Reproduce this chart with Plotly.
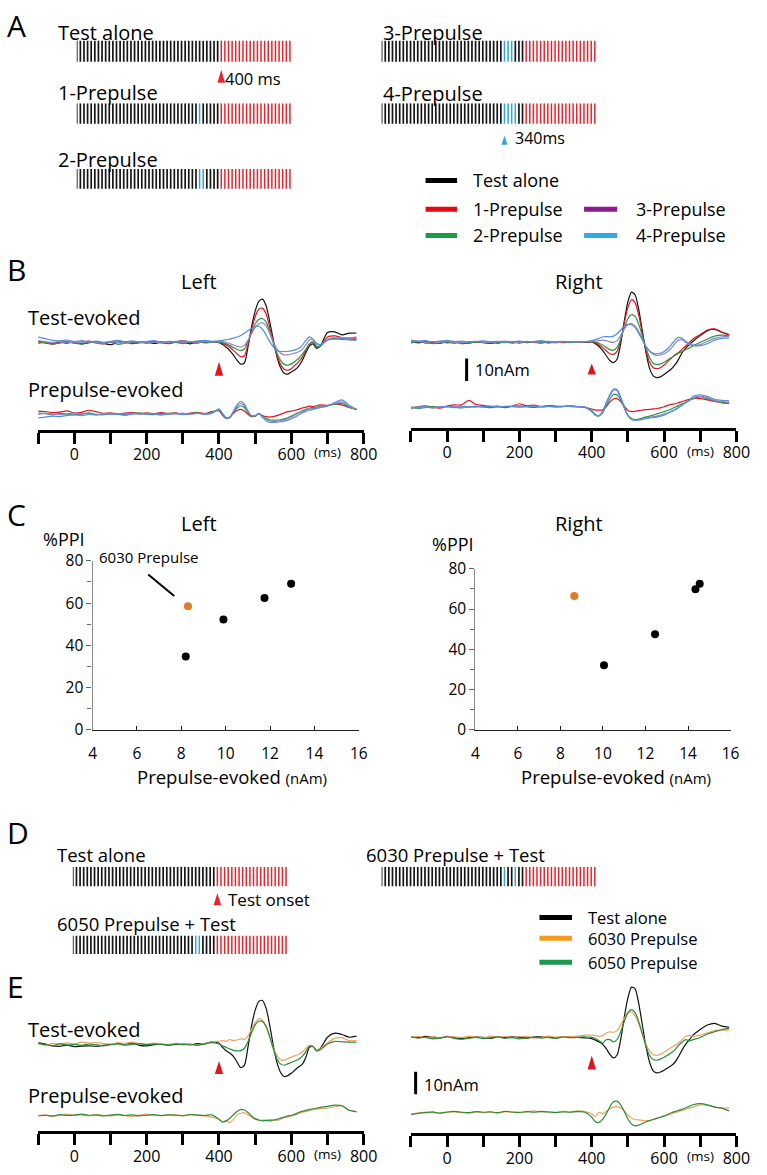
import plotly.graph_objects as go

FONT = "Open Sans"
W, H = 767, 1175

# ---------------- stimulus parameters (ms) ----------------
CLICK_INTERVAL_MS = 10
TRAIN_END_MS = 600
TEST_ONSET_MS = 400
PP_MARK_MS = 340
PP_1 = [340]
PP_2 = [340, 350]
PP_3 = [340, 350, 360]
PP_4 = [340, 350, 360, 370]
PP_6030 = [340, 370]
PP_6050 = [340, 350]

# ---------------- panel C scatter data ----------------
C_LEFT_X = [8.2, 9.9, 11.75, 12.95]
C_LEFT_Y = [34.8, 52.2, 62.4, 69.2]
C_LEFT_6030_X = [8.3]
C_LEFT_6030_Y = [58.5]
C_RIGHT_X = [10.05, 12.45, 14.35, 14.55]
C_RIGHT_Y = [32.1, 47.5, 69.8, 72.5]
C_RIGHT_6030_X = [8.65]
C_RIGHT_6030_Y = [66.5]
C_XTICKS = [4, 6, 8, 10, 12, 14, 16]
C_YTICKS = [0, 20, 40, 60, 80]

# ---------------- waveform time axis (ms) ----------------
T = [-100, -80, -60, -40, -20, 0, 20, 40, 60, 80, 100, 120, 140, 160, 180, 200, 220, 240, 260, 280, 300, 320, 340, 360, 380,
     400, 410, 420, 430, 440, 450, 460, 470, 480, 490, 500, 510, 520, 530, 540, 550, 560, 570, 580, 590, 600, 610, 620, 630, 640,
     650, 660, 670, 680, 700, 720, 740, 760, 780]
WAVE_TICKS = [-100, 0, 100, 200, 300, 400, 500, 600, 700, 800]
WAVE_TICKTEXT = ["", "0", "", "200", "", "400", "", "600", "", "800"]

# ---------------- B left (nAm) ----------------
BL_TEST_BLACK = [0.6, 0.2, -0.4, 0.3, -0.2, 0.4, -0.5, 0.0, 0.5, -0.3, -0.9, 0.1, 0.5, -0.2, 0.2, 0.4, -0.3, 0.2, -0.4, 0.3, 0.1, -0.5, 0.4, 0.2, 0.3,
                 0.0, -0.8, -2.0, -3.5, -5.5, -7.8, -9.5, -9.0, -2.0, 7.0, 14.0, 18.3, 19.3, 16.5, 9.5, 1.5, -6.0, -11.0, -13.5, -13.9, -13.0, -12.0, -10.5, -8.0, -4.5, -1.5, -0.5, -2.5, -1.5, 4.5, 4.8, 3.5, 4.2, 4.3]
BL_TEST_RED = [0.3, -0.2, -0.6, 0.1, 0.5, -0.2, 0.3, 0.7, -0.1, -0.5, 0.2, 0.8, 0.3, -0.4, -0.1, 0.3, 0.6, 0.0, -0.3, 0.4, 0.9, 0.2, -0.2, 0.6, 0.4,
               0.2, -0.3, -1.0, -2.0, -3.4, -5.0, -6.2, -5.8, -1.0, 5.5, 11.5, 14.8, 15.3, 12.8, 7.0, 0.5, -5.5, -9.5, -11.8, -12.2, -11.5, -10.0, -8.5, -6.5, -3.5, -0.8, 0.3, -2.0, -1.5, 2.5, 3.0, 2.2, 2.0, 2.0]
BL_TEST_GREEN = [-0.3, 0.2, -0.5, -0.2, 0.4, -0.1, -0.6, 0.2, 0.0, -0.4, 0.3, -0.7, -0.2, 0.1, 0.4, -0.3, 0.2, 0.5, -0.2, 0.1, -0.4, 0.3, 0.6, -0.1, 0.2,
                 0.2, 0.0, -0.5, -1.3, -2.2, -3.0, -3.5, -2.8, 0.5, 4.5, 8.3, 10.3, 10.7, 9.2, 5.0, 0.0, -4.5, -7.8, -9.5, -10.0, -9.4, -8.3, -7.0, -5.2, -3.0, -0.5, 0.5, -1.8, -1.5, 1.2, 1.8, 1.5, 1.2, 1.5]
BL_TEST_PURPLE = [0.8, 0.4, 0.1, 0.5, -0.1, 0.3, 0.0, 0.6, 0.2, -0.2, 0.4, 0.1, -0.3, 0.5, 0.2, 0.0, 0.4, -0.2, 0.3, 0.6, 0.1, 0.4, 0.2, 0.5, 0.3,
                  0.5, 0.5, 0.1, -0.4, -1.0, -1.6, -1.9, -1.2, 1.0, 4.0, 6.8, 8.4, 8.8, 7.6, 4.2, 0.5, -2.8, -4.6, -5.4, -5.4, -5.0, -4.6, -4.0, -3.0, -1.0, 1.2, 1.4, -0.8, -1.0, 1.5, 2.4, 2.2, 2.0, 2.6]
BL_TEST_BLUE = [2.5, 1.8, 1.0, 0.8, 1.2, 0.5, 0.9, 0.3, 0.7, 0.2, 0.6, 1.0, 0.4, 0.8, 0.3, 0.5, 0.9, 0.2, 0.6, 0.4, 0.8, 0.3, 0.7, 1.0, 0.6,
                0.8, 1.0, 1.3, 1.6, 2.0, 2.5, 3.2, 4.2, 5.3, 6.4, 7.1, 7.4, 6.0, 3.5, 0.6, -1.8, -3.3, -3.9, -3.9, -3.8, -3.6, -3.2, -2.6, -1.2, 1.0, 2.6, 1.6, -0.3, -0.8, 1.2, 1.6, 1.8, 1.5, 1.0]

BL_PRE_RED = [1.4, 1.2, 0.8, 1.0, 1.5, 0.6, 0.9, 1.8, 1.2, 0.4, 0.7, 0.2, 0.5, 0.9, 0.3, 0.6, 0.2, 0.8, 0.4, 0.6, 0.1, 0.5, 0.9, 0.3, 1.2,
              1.5, -0.5, -1.8, -1.2, 0.5, 1.8, 2.2, 1.5, 0.0, -1.0, -0.8, 0.2, -0.5, -1.0, -1.2, -1.0, -0.6, 0.0, 0.6, 1.2, 1.4, 1.8, 2.2, 2.8, 3.2, 3.6, 3.4, 3.8, 4.2, 4.0, 4.5, 4.2, 3.0, 2.2]
BL_PRE_GREEN = [0.5, 0.3, -0.2, 0.4, 0.1, -0.3, 0.2, 0.6, 0.0, -0.2, 0.3, 0.1, -0.4, 0.3, 0.6, 0.2, -0.1, 0.4, 0.2, 0.5, 0.0, 0.3, 0.6, 0.1, 0.9,
                2.0, 0.0, -1.8, -1.5, 0.8, 2.8, 3.8, 3.0, 0.8, -0.8, -0.8, 0.3, -0.8, -1.8, -2.4, -2.6, -2.6, -2.4, -2.0, -1.5, -0.8, 0.0, 0.8, 1.5, 2.2, 2.8, 3.0, 3.2, 3.5, 3.8, 4.5, 4.8, 3.2, 2.2]
BL_PRE_PURPLE = [0.0, 0.4, 0.2, -0.2, 0.3, 0.5, 0.1, 0.3, -0.2, 0.2, 0.4, -0.1, 0.2, 0.5, 0.0, 0.3, 0.1, -0.2, 0.4, 0.2, 0.5, 0.0, 0.4, 0.2, 0.6,
                 2.2, 0.2, -1.6, -1.4, 1.2, 3.5, 4.8, 3.8, 1.2, -0.6, -0.6, 0.4, -1.0, -2.2, -2.9, -3.1, -3.0, -2.8, -2.4, -1.9, -1.2, -0.3, 0.5, 1.2, 1.8, 2.4, 2.6, 3.0, 3.4, 3.8, 4.8, 5.5, 3.5, 2.2]
BL_PRE_BLUE = [-1.5, -1.2, -0.8, -1.0, -0.5, -0.2, -0.6, 0.0, -0.3, 0.2, -0.1, 0.3, -0.2, 0.1, 0.4, 0.0, 0.2, -0.3, 0.1, 0.3, -0.1, 0.2, 0.5, 0.0, 0.4,
               2.4, 0.3, -1.5, -1.3, 1.5, 4.2, 5.8, 4.5, 1.5, -0.5, -0.5, 0.2, -1.3, -2.8, -3.5, -3.6, -3.5, -3.3, -3.0, -2.6, -2.0, -1.2, -0.3, 0.6, 1.3, 1.8, 2.2, 2.6, 3.0, 3.6, 5.2, 6.4, 4.0, 2.2]

# ---------------- B right (nAm) ----------------
BR_TEST_BLACK = [0.5, -0.2, 0.3, 0.0, -0.4, 0.2, 0.4, -0.1, -0.3, 0.2, 0.0, -0.5, 0.3, 0.1, -0.2, 0.3, -0.1, 0.2, 0.4, -0.2, 0.1, 0.3, -0.1, 0.2, 0.0,
                 0.2, -0.6, -1.8, -3.5, -5.8, -8.0, -9.0, -7.5, -0.5, 9.5, 18.0, 22.3, 21.0, 14.5, 5.0, -4.5, -11.5, -14.8, -15.6, -15.3, -14.2, -13.0, -11.8, -10.0, -7.5, -4.5, -2.5, -1.0, 0.5, 3.0, 5.2, 5.8, 4.5, 3.5]
BR_TEST_RED = [0.2, 0.4, -0.3, 0.1, 0.5, -0.2, 0.3, -0.6, 0.0, 0.4, -0.1, 0.2, -0.4, 0.3, 0.1, -0.2, 0.5, 0.0, -0.3, 0.2, 0.4, -0.1, 0.1, 0.3, 0.2,
               0.3, -0.2, -1.0, -2.2, -3.8, -5.0, -5.3, -4.0, 1.0, 8.5, 15.5, 18.9, 17.5, 12.0, 4.0, -3.5, -8.8, -11.2, -11.6, -11.2, -10.0, -8.5, -7.0, -5.5, -4.5, -3.0, -1.5, 0.0, 1.5, 3.5, 5.5, 6.0, 4.5, 3.2]
BR_TEST_GREEN = [-0.2, 0.3, 0.0, -0.5, -0.3, 0.2, -0.4, 0.1, -0.2, 0.3, 0.0, -0.3, 0.2, -0.1, 0.3, -0.2, 0.1, 0.4, -0.1, 0.2, -0.2, 0.3, 0.0, 0.1, 0.2,
                 0.4, 0.2, -0.4, -1.2, -2.2, -3.2, -3.5, -2.2, 1.5, 6.5, 10.5, 12.3, 11.5, 8.0, 2.8, -2.5, -6.8, -9.2, -9.8, -9.5, -8.8, -7.8, -6.8, -5.8, -4.8, -4.0, -3.2, -2.5, -1.5, 0.0, 1.5, 2.8, 3.2, 3.0]
BR_TEST_PURPLE = [0.4, 0.6, 0.1, 0.3, 0.0, 0.4, 0.2, -0.1, 0.3, 0.5, 0.1, 0.0, 0.3, 0.6, 0.2, 0.0, 0.4, 0.1, 0.3, 0.5, 0.0, 0.2, 0.4, 0.1, 0.3,
                  0.5, 0.6, 0.8, 1.0, 0.8, 0.2, 0.0, 0.8, 3.0, 6.0, 7.8, 8.3, 7.2, 4.8, 1.5, -1.8, -4.0, -5.2, -5.8, -5.6, -5.0, -4.0, -2.5, -0.5, 1.0, 1.2, 0.0, -1.0, -1.5, -1.0, 0.5, 1.8, 2.5, 2.8]
BR_TEST_BLUE = [1.0, 0.5, 0.8, 0.2, 0.5, 0.9, 0.3, 0.6, 0.1, 0.4, 0.7, 0.2, 0.5, 0.0, 0.3, 0.6, 0.2, 0.4, 0.8, 0.1, 0.3, 0.5, 0.2, 0.4, 0.3,
                0.8, 1.2, 1.8, 2.4, 2.6, 2.5, 2.8, 3.8, 5.5, 7.2, 8.0, 7.8, 6.5, 4.0, 1.0, -1.8, -3.8, -4.8, -5.1, -4.8, -4.0, -2.8, -1.0, 1.0, 2.2, 1.8, 0.5, -0.5, -1.2, -1.5, -0.5, 1.0, 1.8, 2.0]

BR_PRE_RED = [-0.5, 0.2, 0.6, 0.0, -0.4, 0.5, 1.0, 1.0, 3.0, 1.2, 0.8, 0.2, 0.5, -0.2, 0.4, 1.5, 0.6, 0.9, 0.3, 0.7, 0.5, 0.2, 0.6, 0.3, 0.0,
              -0.8, -1.3, -1.3, -1.2, 0.2, 2.2, 3.6, 3.8, 2.5, 0.5, -1.5, -2.0, -1.8, -1.5, -1.3, -1.1, -1.0, -0.8, -0.6, -0.3, 0.2, 0.8, 1.2, 1.5, 2.0, 2.5, 3.0, 3.5, 3.8, 3.8, 3.2, 2.5, 2.0, 1.8]
BR_PRE_GREEN = [0.2, -0.5, -0.2, 0.3, -0.1, 0.4, 0.0, -0.3, 0.2, 0.5, 0.1, -0.2, 0.3, 0.0, 0.4, 0.6, 0.2, -0.1, 0.3, 0.5, 0.1, 0.3, 0.6, 0.2, 0.0,
                -1.5, -3.2, -3.8, -2.5, 0.5, 3.5, 5.6, 5.5, 3.2, -0.5, -3.5, -5.0, -5.5, -5.3, -4.8, -4.3, -4.0, -3.5, -3.0, -2.5, -2.0, -1.5, -0.8, 0.0, 0.8, 1.5, 2.2, 3.0, 3.8, 4.5, 3.8, 2.8, 2.0, 1.5]
BR_PRE_PURPLE = [-0.3, 0.1, 0.3, -0.2, 0.2, 0.0, 0.4, -0.1, 0.2, 0.0, 0.3, 0.5, 0.1, 0.4, 0.2, 0.0, 0.3, 0.5, 0.2, 0.4, 0.1, 0.3, 0.5, 0.2, 0.1,
                 -1.8, -3.5, -3.9, -2.0, 1.5, 5.0, 7.5, 7.3, 4.0, 0.0, -3.8, -5.3, -5.8, -5.6, -5.2, -4.8, -4.5, -4.2, -4.0, -3.5, -3.0, -2.5, -1.8, -1.0, 0.0, 1.0, 2.0, 3.0, 4.2, 5.0, 4.2, 3.0, 2.5, 2.2]
BR_PRE_BLUE = [-0.6, -0.2, 0.1, -0.4, 0.0, 0.3, -0.2, 0.2, 0.0, 0.3, 0.1, 0.4, 0.0, 0.3, 0.5, 0.1, 0.2, 0.4, 0.0, 0.3, 0.2, 0.5, 0.3, 0.1, 0.0,
               -2.0, -3.6, -3.9, -1.8, 2.0, 5.5, 8.0, 7.8, 4.5, 0.2, -3.8, -5.5, -5.8, -5.7, -5.4, -5.0, -4.8, -4.6, -4.4, -4.0, -3.5, -2.8, -2.0, -1.2, -0.3, 0.8, 2.0, 3.2, 4.8, 5.5, 4.8, 3.5, 3.0, 2.8]

# ---------------- E left (nAm) ----------------
EL_TEST_BLACK = [0.5, 0.0, -0.8, -1.0, -0.5, -1.2, -0.9, -0.8, -1.0, -0.6, -0.2, 0.3, 0.0, 0.5, -0.6, -0.8, -0.3, 0.0, -0.5, -0.2, 0.0, -0.4, 0.2, 0.0, 1.0,
                 0.3, -1.5, -3.0, -4.0, -5.5, -8.0, -10.5, -9.5, -1.5, 8.0, 15.0, 18.8, 19.3, 16.0, 8.5, -0.5, -8.0, -12.5, -14.4, -14.0, -13.0, -11.5, -10.2, -9.0, -6.0, -1.5, -1.0, -3.0, -2.0, 3.0, 4.8, 4.2, 3.0, 3.5]
EL_TEST_ORANGE = [0.0, -0.5, 0.3, -0.2, 0.5, 0.0, 0.8, 0.4, 0.6, 0.2, 0.0, 0.5, 0.3, 0.8, 0.2, 0.0, 0.4, 0.1, -0.2, 0.3, 0.0, -0.3, -0.5, 0.2, 1.0,
                  1.2, 1.5, 1.2, 2.0, 1.5, 1.8, 2.3, 2.0, 3.5, 6.5, 9.5, 11.2, 10.5, 7.5, 3.0, -1.5, -5.0, -7.0, -7.2, -6.5, -5.8, -5.2, -4.5, -3.5, -2.0, -0.5, -1.0, -2.8, -2.0, 0.5, 2.5, 2.8, 1.5, 1.5]
EL_TEST_GREEN = [0.3, -0.3, -0.8, 0.2, -0.5, -0.2, -0.6, 0.0, -0.4, -0.8, -0.3, 0.0, -0.5, -0.2, 0.2, -0.3, 0.0, -0.2, -0.5, 0.0, -0.3, 0.0, -0.6, 0.1, 0.6,
                 0.0, -0.8, -1.5, -2.2, -2.8, -3.0, -2.9, -2.0, 1.0, 5.0, 8.5, 10.1, 10.0, 8.0, 3.5, -2.0, -6.5, -8.8, -9.4, -8.8, -8.2, -7.5, -6.8, -5.5, -3.5, -1.0, -1.2, -3.0, -2.5, 0.0, 1.2, 1.0, 0.8, 0.8]
EL_PRE_ORANGE = [0.2, 0.5, -0.3, 0.4, 0.8, 0.2, 0.5, 0.0, 0.6, 0.3, 0.0, 0.5, 0.2, -0.2, 0.4, 0.8, 0.3, 0.1, 0.4, 0.6, 0.2, 0.7, 0.3, 0.0, -0.5,
                 -1.5, -2.5, -2.0, -3.0, -1.5, 0.5, 1.2, 1.4, 0.5, -0.5, -1.5, -2.0, -1.8, -2.0, -1.5, -1.8, -2.0, -1.5, -0.8, -0.5, 0.0, 0.5, 1.0, 1.5, 2.0, 2.3, 2.8, 3.0, 3.2, 3.5, 4.0, 4.5, 2.5, 2.0]
EL_PRE_GREEN = [0.0, 0.3, 0.0, 0.6, 0.2, 0.4, 0.8, 0.3, 0.5, 0.0, 0.4, 0.7, 0.2, 0.5, 0.0, 0.3, 0.6, 0.2, 0.5, 0.3, 0.0, 0.6, 0.4, 0.2, 0.5,
                -1.5, -2.8, -2.2, -1.0, 0.5, 2.0, 2.9, 2.6, 1.5, 0.0, -1.2, -1.8, -2.2, -2.0, -2.2, -1.8, -1.5, -1.0, -0.5, 0.0, 0.3, 0.8, 1.5, 2.0, 2.5, 2.8, 3.2, 3.5, 3.8, 4.2, 4.8, 4.5, 2.5, 1.8]

# ---------------- E right (nAm) ----------------
ER_TEST_BLACK = [0.3, 0.0, 0.5, 0.2, -0.3, 0.4, 0.0, -0.5, -0.2, 0.3, 0.0, -0.4, 0.2, -0.1, 0.3, 0.0, -0.3, 0.2, 0.4, 0.0, -0.2, 0.3, 0.1, 0.0, -0.2,
                 -0.5, -1.2, -2.0, -3.0, -5.0, -7.5, -9.1, -7.8, -1.0, 9.0, 17.5, 22.3, 21.5, 15.0, 5.5, -4.0, -11.0, -14.8, -15.7, -15.3, -14.5, -13.5, -12.5, -11.0, -8.5, -5.5, -3.0, -1.0, 1.0, 3.5, 5.5, 6.2, 5.0, 4.5]
ER_TEST_ORANGE = [0.3, 0.5, 0.0, 0.4, -0.2, 0.6, 0.2, 0.0, 0.5, 0.3, -0.2, 0.6, 0.2, 0.4, 0.0, 0.3, 0.5, -0.3, 0.2, 0.6, 0.1, 0.4, 0.3, 0.6, 1.0,
                  1.0, 0.8, 0.5, 0.8, 2.0, 2.5, 2.3, 3.0, 5.5, 8.5, 10.8, 11.3, 9.5, 6.0, 1.5, -3.0, -6.0, -7.6, -8.0, -7.5, -6.5, -5.5, -4.5, -3.5, -2.5, -1.0, 0.5, 0.8, 0.5, 1.0, 2.0, 3.0, 3.2, 3.2]
ER_TEST_GREEN = [0.2, -0.3, 0.0, -0.6, -0.2, 0.3, -0.4, -0.8, -0.3, 0.0, -0.5, -0.2, 0.3, -0.4, -0.1, -0.6, -0.2, 0.1, -0.3, 0.0, -0.4, 0.2, -0.1, 0.0, 0.3,
                 0.0, -0.5, -1.5, -2.5, -1.0, -1.0, -2.0, -1.0, 2.5, 7.0, 11.0, 12.3, 11.0, 7.0, 1.5, -4.0, -8.0, -9.8, -10.1, -9.6, -8.8, -7.8, -6.8, -5.5, -3.5, -2.0, -1.0, -1.5, -1.0, 0.0, 1.5, 2.5, 3.5, 4.0]
ER_PRE_ORANGE = [-0.5, -0.2, 0.3, 0.0, -0.3, 0.2, 0.5, 0.0, -0.2, 0.4, 0.0, 0.3, -0.2, 0.5, 0.2, 0.0, 0.4, 0.8, 0.3, 0.5, 0.2, 0.6, 0.3, 0.8, 0.5,
                 -0.5, -1.8, 0.2, -0.5, 0.5, 1.8, 2.5, 2.8, 2.2, 0.8, -1.0, -2.5, -3.0, -3.2, -3.4, -3.6, -3.5, -3.0, -2.5, -2.0, -1.5, -1.0, -0.5, 0.0, 0.5, 1.0, 1.5, 2.0, 2.5, 3.5, 3.2, 2.5, 2.0, 2.2]
ER_PRE_GREEN = [-0.8, -0.3, 0.0, 0.4, -0.2, 0.3, 0.6, 0.2, 0.0, 0.5, 0.2, 0.4, 0.0, 0.6, 0.3, 0.1, 0.5, 0.2, 0.6, 0.3, 0.0, 0.4, 0.2, 0.5, 0.3,
                -2.0, -4.0, -4.3, -3.0, -0.5, 2.5, 4.8, 5.1, 3.5, 0.5, -2.8, -5.0, -5.8, -5.5, -4.8, -4.0, -3.5, -3.0, -2.5, -2.0, -1.5, -0.8, 0.0, 0.5, 1.0, 1.5, 2.2, 2.8, 3.5, 4.0, 3.5, 2.5, 2.0, 0.8]

# ---------------- colours ----------------
C_BLACK = "#111111"
C_RED = "#e3141c"
C_GREEN = "#2a9445"
C_PURPLE = "#9382cc"
C_BLUE = "#4f8fdc"
C_ORANGE_TR = "#f0a25e"
C_GREEN_TR = "#2a8a3c"
LEG_RED = "#e50914"
LEG_GREEN = "#1b9a4b"
LEG_PURPLE = "#8b1c8c"
LEG_BLUE = "#33a9e0"
LEG_ORANGE = "#f39c1d"
TRAIN_BLACK = "#151515"
TRAIN_RED = "#e3262e"
TRAIN_BLUE = "#2ba6de"
DOT_ORANGE = "#e07b28"

PX_PER_NAM = 2.3

fig = go.Figure()
axes = {}
_count = [0]


def add_axes(x0, x1, y_top, y_bot, xr, yr, xstyle=None, ystyle=None):
    _count[0] += 1
    n = _count[0]
    sx = "" if n == 1 else str(n)
    xa = dict(domain=[x0 / W, x1 / W], range=xr, anchor="y" + sx, visible=False,
              fixedrange=True, showgrid=False, zeroline=False)
    ya = dict(domain=[1 - y_bot / H, 1 - y_top / H], range=yr, anchor="x" + sx, visible=False,
              fixedrange=True, showgrid=False, zeroline=False)
    if xstyle:
        xa.update(visible=True, **xstyle)
    if ystyle:
        ya.update(visible=True, **ystyle)
    axes["xaxis" + sx] = xa
    axes["yaxis" + sx] = ya
    return "x" + sx, "y" + sx


def text(s, x, y, size, anchor="left", color="black"):
    fig.add_annotation(text=s, x=x / W, y=1 - y / H, xref="paper", yref="paper", showarrow=False,
                       xanchor=anchor, yanchor="middle", font=dict(size=size, color=color, family=FONT))


def triangle(xr, yr, t, yval, apex, base, half, color):
    fig.add_shape(type="path", xref=xr, yref=yr, xsizemode="pixel", ysizemode="pixel",
                  xanchor=t, yanchor=yval,
                  path=f"M {-half} {-base} L {half} {-base} L 0 {-apex} Z",
                  fillcolor=color, line=dict(width=0))


# ---------------- stimulus trains ----------------
TRAIN_TIMES = list(range(0, TRAIN_END_MS, CLICK_INTERVAL_MS))
EXTRA_BELOW_PX = 26  # room under each train for the onset markers


def draw_train(x0, x1, y_top, y_bot, prepulses):
    h = y_bot - y_top
    xr, yr = add_axes(x0, x1, y_top, y_bot + EXTRA_BELOW_PX, [0, TRAIN_END_MS],
                      [-EXTRA_BELOW_PX / h, 1])
    groups = [
        (TRAIN_BLACK, 1.7, [t for t in TRAIN_TIMES if t < TEST_ONSET_MS and t not in prepulses]),
        (TRAIN_BLUE, 1.5, [t for t in TRAIN_TIMES if t in prepulses]),
        (TRAIN_RED, 1.5, [t for t in TRAIN_TIMES if t >= TEST_ONSET_MS]),
    ]
    for color, w, ts in groups:
        xs, ys = [], []
        for t in ts:
            xs += [t, t, None]
            ys += [0, 1, None]
        fig.add_trace(go.Scatter(x=xs, y=ys, mode="lines", line=dict(color=color, width=w),
                                 xaxis=xr, yaxis=yr, hoverinfo="skip", showlegend=False))
    return xr, yr


# Panel A
xa_t, ya_t = draw_train(74.5, 296.5, 29, 50.7, [])
triangle(xa_t, ya_t, TEST_ONSET_MS, 0, 8, 21, 3.8, TRAIN_RED)
draw_train(74.5, 296.5, 93, 114, PP_1)
draw_train(74.5, 296.5, 160, 180, PP_2)
draw_train(386.7, 608.7, 29, 50.7, PP_3)
xa4, ya4 = draw_train(386.7, 608.7, 93, 114, PP_4)
triangle(xa4, ya4, PP_MARK_MS, 0, 12, 21, 3, TRAIN_BLUE)

# Panel D
xd1, yd1 = draw_train(70.5, 292.5, 871, 891, [])
triangle(xd1, yd1, TEST_ONSET_MS, 0, 7, 19, 3.8, TRAIN_RED)
draw_train(70.5, 292.5, 941, 960, PP_6050)
draw_train(386.7, 608.7, 871, 891, PP_6030)

# ---------------- waveform panels ----------------
WAVE_X_STYLE = dict(showline=True, linecolor="black", linewidth=3, ticks="outside", ticklen=11,
                    tickwidth=3, tickcolor="black", tickmode="array", tickvals=WAVE_TICKS,
                    ticktext=WAVE_TICKTEXT, tickfont=dict(size=16, color="black", family=FONT),
                    ticklabelstandoff=-3, showgrid=False, zeroline=False)


def wave_panel(x0, x1, y_top, y_axis, y_base, y_pre, tests, pres, tri, bar=None):
    ybot = -(y_axis - y_base) / PX_PER_NAM
    ytop = (y_base - y_top) / PX_PER_NAM
    xr, yr = add_axes(x0, x1, y_top, y_axis, [-100, 800], [ybot, ytop], xstyle=WAVE_X_STYLE)
    offset = -(y_pre - y_base) / PX_PER_NAM
    for vals, color in pres:
        fig.add_trace(go.Scatter(x=T, y=[v + offset for v in vals], mode="lines",
                                 line=dict(color=color, width=1.2, shape="spline", smoothing=0.7),
                                 xaxis=xr, yaxis=yr, hoverinfo="skip", showlegend=False))
    for vals, color in tests:
        fig.add_trace(go.Scatter(x=T, y=vals, mode="lines",
                                 line=dict(color=color, width=1.2, shape="spline", smoothing=0.7),
                                 xaxis=xr, yaxis=yr, hoverinfo="skip", showlegend=False))
    triangle(xr, yr, TEST_ONSET_MS, 0, tri[0], tri[1], 4.2, C_RED)
    if bar is not None:
        fig.add_shape(type="line", xref=xr, yref=yr, x0=bar[0], x1=bar[0], y0=bar[1], y1=bar[1] - 10,
                      line=dict(color="black", width=3))
    fig.add_annotation(text="(ms)", x=700, y=1 - (y_axis + 23) / H, xref=xr, yref="paper",
                       showarrow=False, xanchor="center", yanchor="middle",
                       font=dict(size=13.5, color="black", family=FONT))
    return xr, yr


wave_panel(35, 368.3, 268, 425.7, 337, 410,
           [(BL_TEST_BLACK, C_BLACK), (BL_TEST_RED, C_RED), (BL_TEST_GREEN, C_GREEN),
            (BL_TEST_PURPLE, C_PURPLE), (BL_TEST_BLUE, C_BLUE)],
           [(BL_PRE_RED, C_RED), (BL_PRE_GREEN, C_GREEN), (BL_PRE_PURPLE, C_PURPLE), (BL_PRE_BLUE, C_BLUE)],
           (19, 33))
wave_panel(416.7, 750, 268, 424, 336.7, 402.7,
           [(BR_TEST_BLACK, C_BLACK), (BR_TEST_RED, C_RED), (BR_TEST_GREEN, C_GREEN),
            (BR_TEST_PURPLE, C_PURPLE), (BR_TEST_BLUE, C_BLUE)],
           [(BR_PRE_RED, C_RED), (BR_PRE_GREEN, C_GREEN), (BR_PRE_PURPLE, C_PURPLE), (BR_PRE_BLUE, C_BLUE)],
           (21, 32), bar=(54, -7.1))
wave_panel(35, 368.3, 985, 1140.7, 1051.7, 1125,
           [(EL_TEST_BLACK, C_BLACK), (EL_TEST_ORANGE, C_ORANGE_TR), (EL_TEST_GREEN, C_GREEN_TR)],
           [(EL_PRE_ORANGE, C_ORANGE_TR), (EL_PRE_GREEN, C_GREEN_TR)],
           (17, 30))
wave_panel(416.7, 750, 985, 1142.7, 1045, 1121.7,
           [(ER_TEST_BLACK, C_BLACK), (ER_TEST_ORANGE, C_ORANGE_TR), (ER_TEST_GREEN, C_GREEN_TR)],
           [(ER_PRE_ORANGE, C_ORANGE_TR), (ER_PRE_GREEN, C_GREEN_TR)],
           (18, 32), bar=(-87, -15.2))

# ---------------- panel C scatter ----------------
C_X_STYLE = dict(showline=True, linecolor="#222", linewidth=1.3, ticks="inside", ticklen=4,
                 tickcolor="#222", tickmode="array", tickvals=C_XTICKS, ticklabelstandoff=9,
                 tickfont=dict(size=15.5, color="black", family=FONT), showgrid=False, zeroline=False)
C_Y_STYLE = dict(showline=True, linecolor="#888", linewidth=1.3, ticks="outside", ticklen=5,
                 tickcolor="#666", tickmode="array", tickvals=C_YTICKS,
                 minor=dict(dtick=10, tick0=0, ticks="outside", ticklen=4, tickcolor="#666"),
                 tickfont=dict(size=15.5, color="black", family=FONT), showgrid=False, zeroline=False)

xcl, ycl = add_axes(90.7, 363.3, 559.3, 731.7, [4, 16], [0, 80], xstyle=C_X_STYLE, ystyle=C_Y_STYLE)
fig.add_trace(go.Scatter(x=C_LEFT_X, y=C_LEFT_Y, mode="markers", marker=dict(color="black", size=8),
                         xaxis=xcl, yaxis=ycl, showlegend=False, hoverinfo="skip", cliponaxis=False))
fig.add_trace(go.Scatter(x=C_LEFT_6030_X, y=C_LEFT_6030_Y, mode="markers", marker=dict(color=DOT_ORANGE, size=8),
                         xaxis=xcl, yaxis=ycl, showlegend=False, hoverinfo="skip", cliponaxis=False))
fig.add_shape(type="line", xref=xcl, yref=ycl, x0=6.51, y0=73.5, x1=7.68, y1=63.4,
              line=dict(color="black", width=2))

xcr, ycr = add_axes(482.7, 744, 567.3, 731.7, [4, 16], [0, 80], xstyle=C_X_STYLE, ystyle=C_Y_STYLE)
fig.add_trace(go.Scatter(x=C_RIGHT_X, y=C_RIGHT_Y, mode="markers", marker=dict(color="black", size=8),
                         xaxis=xcr, yaxis=ycr, showlegend=False, hoverinfo="skip", cliponaxis=False))
fig.add_trace(go.Scatter(x=C_RIGHT_6030_X, y=C_RIGHT_6030_Y, mode="markers", marker=dict(color=DOT_ORANGE, size=8),
                         xaxis=xcr, yaxis=ycr, showlegend=False, hoverinfo="skip", cliponaxis=False))


# ---------------- legends (drawn manually) ----------------
def legend_line(x0, x1, y, color):
    fig.add_shape(type="line", xref="paper", yref="paper", x0=x0 / W, x1=x1 / W, y0=1 - y / H, y1=1 - y / H,
                  line=dict(color=color, width=5))


legend_line(431.7, 464, 171.7, "black")
legend_line(431.7, 464, 201, LEG_RED)
legend_line(431.7, 464, 227.7, LEG_GREEN)
legend_line(594, 628, 201, LEG_PURPLE)
legend_line(594, 628, 227.7, LEG_BLUE)
text("Test alone", 478, 171.7, 18)
text("1-Prepulse", 478, 201, 18)
text("2-Prepulse", 478, 227.7, 18)
text("3-Prepulse", 645, 201, 18)
text("4-Prepulse", 645, 227.7, 18)

legend_line(548.3, 581.7, 922.7, "black")
legend_line(548.3, 581.7, 944, LEG_ORANGE)
legend_line(548.3, 581.7, 968.3, LEG_GREEN)
text("Test alone", 595.5, 922.7, 16.5)
text("6030 Prepulse", 595.5, 944, 16.5)
text("6050 Prepulse", 595.5, 968.3, 16.5)

# ---------------- text labels ----------------
text("A", 1, 14, 30)
text("Test alone", 53, 21, 20)
text("400 ms", 224, 67.7, 16.5)
text("1-Prepulse", 53, 82, 20)
text("2-Prepulse", 53, 150.5, 20)
text("3-Prepulse", 386, 21, 20)
text("4-Prepulse", 386, 83, 20)
text("340ms", 521, 128, 16)

text("B", 1, 262, 30)
text("Left", 200, 275, 20, anchor="center")
text("Right", 589, 275, 20, anchor="center")
text("Test-evoked", 23, 311, 20)
text("Prepulse-evoked", 23, 385, 20)
text("10nAm", 480, 364, 16.5)

text("C", 1, 512, 30)
text("Left", 200, 521.7, 20, anchor="center")
text("Right", 589.3, 521, 20, anchor="center")
text("%PPI", 61, 537.5, 18, anchor="center")
text("%PPI", 460, 542, 18, anchor="center")
text("6030 Prepulse", 148.5, 555, 15, anchor="center")
text("Prepulse-evoked <span style='font-size:15px'>(nAm)</span>", 233, 779.3, 18.5, anchor="center")
text("Prepulse-evoked <span style='font-size:15px'>(nAm)</span>", 626.7, 779.3, 18.5, anchor="center")

text("D", 1, 836, 30)
text("Test alone", 52, 859, 18.5)
text("Test onset", 227.5, 904.3, 17)
text("6050 Prepulse + Test", 52, 928.5, 18.5)
text("6030 Prepulse + Test", 369, 859, 18.5)

text("E", 1, 993, 30)
text("Test-evoked", 23, 1037.3, 20)
text("Prepulse-evoked", 23, 1104, 20)
text("10nAm", 428, 1092.7, 16.5)

fig.update_layout(width=W, height=H, margin=dict(l=0, r=0, t=0, b=0),
                  paper_bgcolor="white", plot_bgcolor="white", showlegend=False,
                  font=dict(family=FONT, color="black"), **axes)

fig.write_html("out.html", config={"displayModeBar": False},
               post_script="document.body.style.margin='0';document.body.style.overflow='hidden';")
